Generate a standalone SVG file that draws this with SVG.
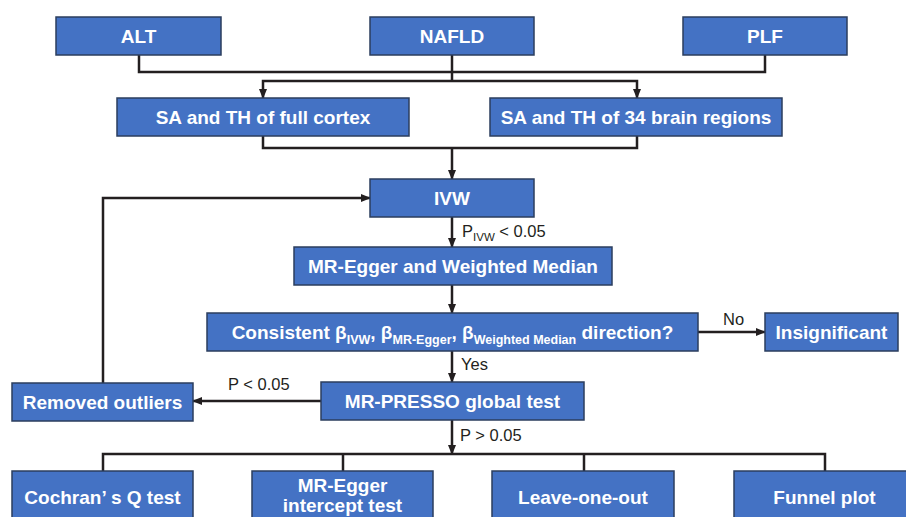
<svg xmlns="http://www.w3.org/2000/svg" width="906" height="517" viewBox="0 0 906 517">
<defs>
<marker id="ah" markerWidth="10" markerHeight="10" refX="9" refY="5" orient="auto" markerUnits="userSpaceOnUse">
<path d="M0,1 L10,5 L0,9 Z" fill="#231f20"/>
</marker>
<style>
.box{fill:#4472c4;stroke:#2b3e5e;stroke-width:1.5}
.bt{font-family:"Liberation Sans",Arial,sans-serif;font-weight:bold;font-size:19px;fill:#fff;text-anchor:middle}
.sub{font-size:12.5px}
.lbl{font-family:"Liberation Sans",Arial,sans-serif;font-size:16.5px;fill:#231f20}
.ln{fill:none;stroke:#231f20;stroke-width:2.5}
.ar{fill:none;stroke:#231f20;stroke-width:2.5;marker-end:url(#ah)}
</style>
</defs>
<rect width="906" height="517" fill="#fff"/>
<g id="connectors">
<polyline class="ln" points="139,55 139,72 765,72 765,55"/>
<polyline class="ln" points="452,55 452,81"/>
<polyline class="ar" points="452,81 263,81 263,98"/>
<polyline class="ar" points="452,81 637,81 637,98"/>
<polyline class="ln" points="263,136 263,148 637,148 637,136"/>
<polyline class="ar" points="452,148 452,179"/>
<polyline class="ar" points="452,217 452,247"/>
<polyline class="ar" points="452,285 452,313"/>
<polyline class="ar" points="698,332 765,332"/>
<polyline class="ar" points="452,351 452,382"/>
<polyline class="ar" points="321,401 193,401"/>
<polyline class="ar" points="103,383 103,198 370,198"/>
<polyline class="ar" points="452,420 452,454"/>
<polyline class="ln" points="103,471 103,454 825,454 825,471"/>
<polyline class="ln" points="343,454 343,471"/>
<polyline class="ln" points="584,454 584,471"/>
<text class="lbl" x="462" y="237">P<tspan font-size="11.5" dy="4">IVW</tspan><tspan dy="-4"> &lt; 0.05</tspan></text>
<text class="lbl" x="723" y="325">No</text>
<text class="lbl" x="461" y="370">Yes</text>
<text class="lbl" x="228" y="390">P &lt; 0.05</text>
<text class="lbl" x="460" y="441">P &gt; 0.05</text>
</g>
<g id="alt"><rect class="box" x="56" y="17" width="165" height="38"/><text class="bt" x="138.5" y="43">ALT</text></g>
<g id="nafld"><rect class="box" x="370" y="17" width="164" height="38"/><text class="bt" x="452" y="43">NAFLD</text></g>
<g id="plf"><rect class="box" x="683" y="17" width="164" height="38"/><text class="bt" x="765" y="43">PLF</text></g>
<g id="sa-full"><rect class="box" x="117" y="98" width="292" height="38"/><text class="bt" x="263" y="124">SA and TH of full cortex</text></g>
<g id="sa-34"><rect class="box" x="490" y="98" width="292" height="38"/><text class="bt" x="636" y="124">SA and TH of 34 brain regions</text></g>
<g id="ivw"><rect class="box" x="370" y="179" width="164" height="38"/><text class="bt" x="452" y="205">IVW</text></g>
<g id="mr-egger-wm"><rect class="box" x="294" y="247" width="318" height="38"/><text class="bt" x="453" y="273">MR-Egger and Weighted Median</text></g>
<g id="consistent"><rect class="box" x="207" y="313" width="491" height="38"/><text class="bt" x="452.5" y="339">Consistent β<tspan class="sub" dy="5">IVW</tspan><tspan dy="-5">, β</tspan><tspan class="sub" dy="5">MR-Egger</tspan><tspan dy="-5">, β</tspan><tspan class="sub" dy="5">Weighted Median</tspan><tspan dy="-5"> direction?</tspan></text></g>
<g id="insignificant"><rect class="box" x="765" y="313" width="133" height="38"/><text class="bt" x="831.5" y="339">Insignificant</text></g>
<g id="mr-presso"><rect class="box" x="321" y="382" width="263" height="38"/><text class="bt" x="452.5" y="408">MR-PRESSO global test</text></g>
<g id="removed"><rect class="box" x="12" y="383" width="181" height="38"/><text class="bt" x="102.5" y="409">Removed outliers</text></g>
<g id="cochran"><rect class="box" x="12" y="471" width="181" height="52"/><text class="bt" x="102.5" y="504">Cochran’ s Q test</text></g>
<g id="egger-int"><rect class="box" x="252" y="471" width="181" height="52"/><text class="bt" x="342.5" y="492">MR-Egger</text><text class="bt" x="342.5" y="512">intercept test</text></g>
<g id="leave"><rect class="box" x="492" y="471" width="182" height="52"/><text class="bt" x="583" y="504">Leave-one-out</text></g>
<g id="funnel"><rect class="box" x="734" y="471" width="181" height="52"/><text class="bt" x="824.5" y="504">Funnel plot</text></g>
</svg>
